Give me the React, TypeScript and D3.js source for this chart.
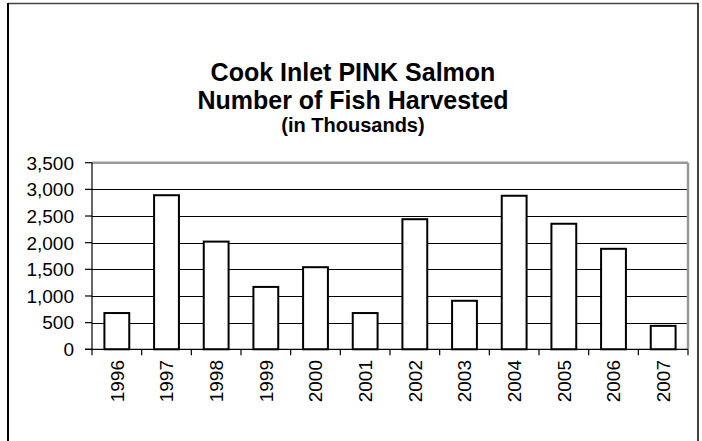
import React from "react";
import * as d3 from "d3";

const years = ["1996","1997","1998","1999","2000","2001","2002","2003","2004","2005","2006","2007"];
const harvest = [680, 2890, 2020, 1170, 1540, 680, 2440, 910, 2880, 2355, 1885, 440];
const yTicks = [0, 500, 1000, 1500, 2000, 2500, 3000, 3500];
const titleLines = ["Cook Inlet PINK Salmon", "Number of Fish Harvested"];
const subTitle = "(in Thousands)";

const W = 702, H = 441;
const plot = { left: 92, right: 688, top: 162.7, bottom: 349.3 };
const FONT = "Arial, 'Liberation Sans', sans-serif";

export default function App() {
  const x = d3.scaleBand<string>().domain(years).range([plot.left, plot.right]).paddingInner(0.5).paddingOuter(0.25);
  const y = d3.scaleLinear().domain([0, 3500]).range([plot.bottom, plot.top]);
  const fmt = d3.format(",");
  const step = x.step();
  const boundaries = d3.range(years.length + 1).map(i => plot.left + i * step);

  return (
    <svg width={W} height={H} style={{ position: "absolute", left: 0, top: 0, background: "#fff" }} fontFamily={FONT}>
      <rect x={0} y={0} width={W} height={H} fill="#fff" />
      {/* outer border */}
      <line x1={8} y1={3.5} x2={698} y2={3.5} stroke="#444" strokeWidth={1.5} />
      <line x1={8} y1={3} x2={8} y2={H} stroke="#000" strokeWidth={2} />
      <line x1={698} y1={3} x2={698} y2={H} stroke="#000" strokeWidth={1.5} />

      {/* title */}
      <text x={353} y={81} textAnchor="middle" fontSize={25} fontWeight="bold">{titleLines[0]}</text>
      <text x={353} y={109} textAnchor="middle" fontSize={25} fontWeight="bold">{titleLines[1]}</text>
      <text x={353} y={132} textAnchor="middle" fontSize={20} fontWeight="bold">{subTitle}</text>

      {/* gridlines */}
      {yTicks.filter(t => t > 0 && t < 3500).map(t => (
        <line key={t} x1={plot.left} x2={plot.right} y1={Math.round(y(t)) + 0.5} y2={Math.round(y(t)) + 0.5} stroke="#000" strokeWidth={1} />
      ))}
      {/* plot area top/right border */}
      <line x1={plot.left} x2={plot.right} y1={y(3500)} y2={y(3500)} stroke="#999" strokeWidth={2.5} />
      <line x1={plot.right} x2={plot.right} y1={y(3500)} y2={plot.bottom} stroke="#999" strokeWidth={2.5} />

      {/* bars */}
      {years.map((yr, i) => (
        <rect key={yr} x={x(yr)!} y={y(harvest[i])} width={x.bandwidth()} height={plot.bottom - y(harvest[i])}
          fill="#fff" stroke="#000" strokeWidth={2} />
      ))}

      {/* y axis */}
      <line x1={plot.left} x2={plot.left} y1={plot.top} y2={plot.bottom} stroke="#000" strokeWidth={1.2} />
      {yTicks.map(t => (
        <g key={t}>
          <line x1={plot.left - 7} x2={plot.left} y1={y(t)} y2={y(t)} stroke="#000" strokeWidth={1.2} />
          <text x={74} y={y(t)} dy="0.36em" textAnchor="end" fontSize={19}>{fmt(t)}</text>
        </g>
      ))}

      {/* x axis */}
      <line x1={plot.left - 7} x2={plot.right} y1={plot.bottom} y2={plot.bottom} stroke="#000" strokeWidth={1.2} />
      {boundaries.map((bx, i) => (
        <line key={i} x1={bx} x2={bx} y1={plot.bottom} y2={plot.bottom + 6} stroke="#000" strokeWidth={1.2} />
      ))}
      {years.map(yr => {
        const cx = x(yr)! + x.bandwidth() / 2;
        return (
          <text key={yr} transform={`translate(${cx},360) rotate(-90)`} dy="0.36em" textAnchor="end" fontSize={19}>{yr}</text>
        );
      })}
    </svg>
  );
}
